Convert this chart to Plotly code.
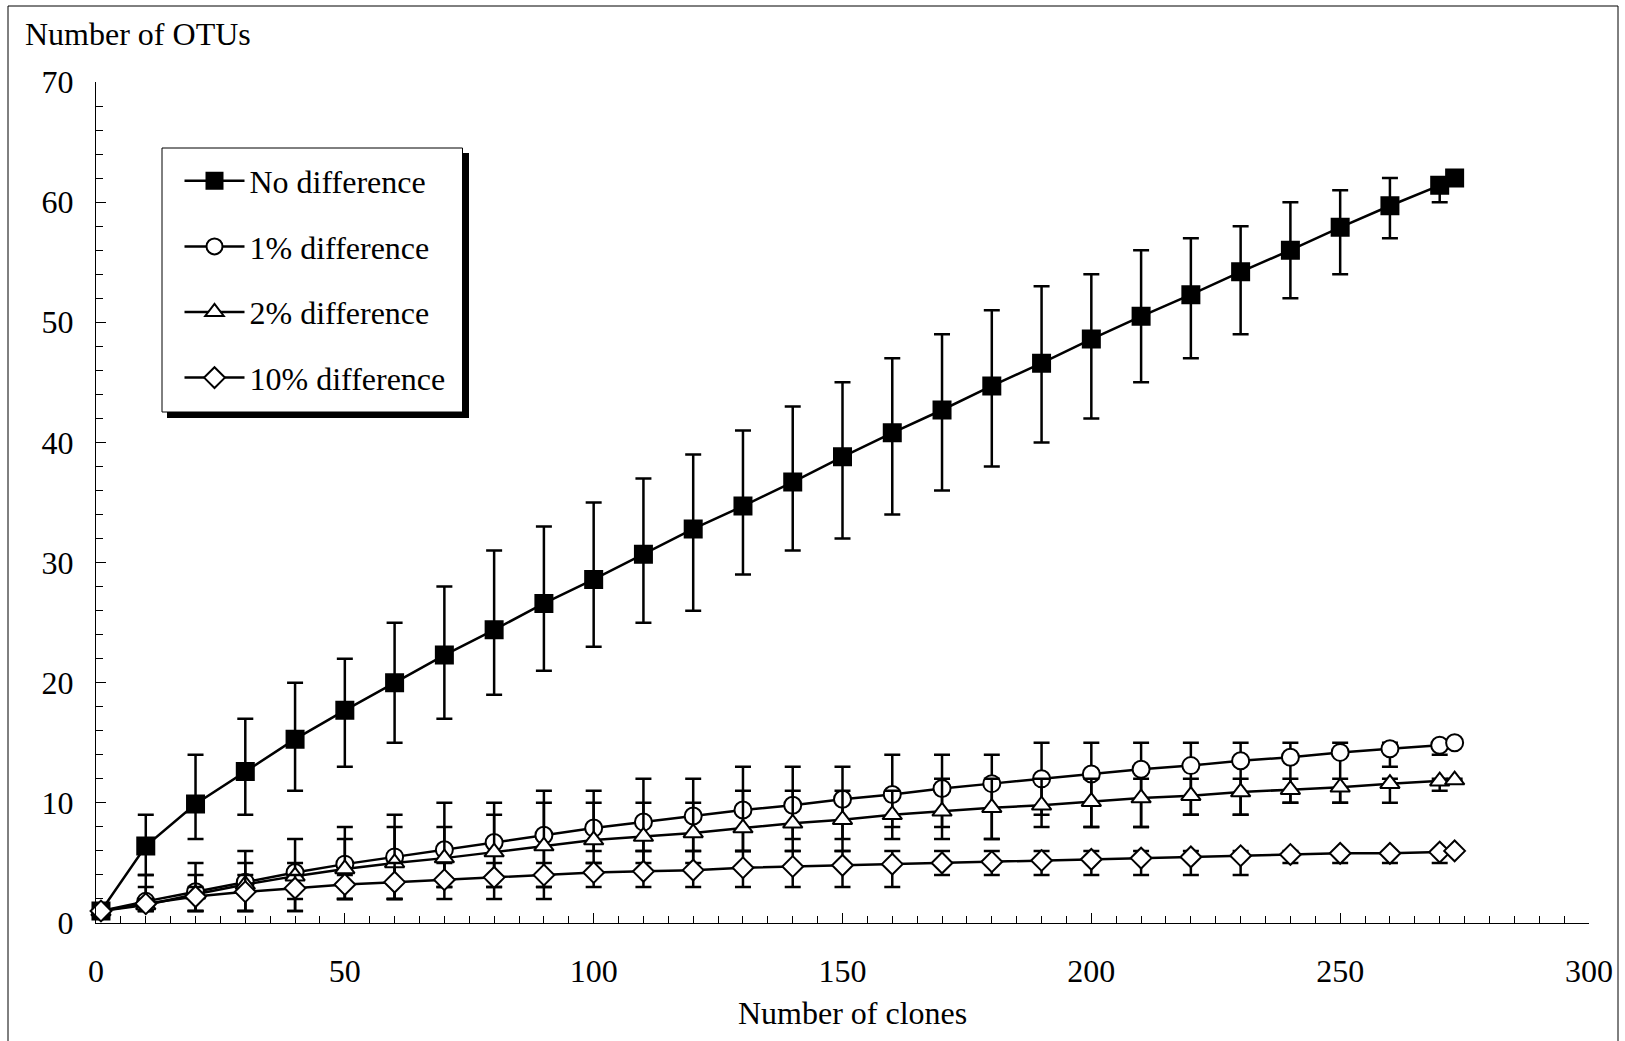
import plotly.graph_objects as go

# ---------------- data ----------------
clones = [1, 10, 20, 30, 40, 50, 60, 70, 80, 90, 100, 110, 120, 130, 140,
          150, 160, 170, 180, 190, 200, 210, 220, 230, 240, 250, 260, 270, 273]

no_diff = [1, 6.4, 9.9, 12.6, 15.3, 17.7, 20.0, 22.3, 24.4, 26.6, 28.6, 30.7, 32.8, 34.7, 36.7,
           38.8, 40.8, 42.7, 44.7, 46.6, 48.6, 50.5, 52.3, 54.2, 56.0, 57.9, 59.7, 61.4, 62.0]
no_diff_hi = [1, 9, 14, 17, 20, 22, 25, 28, 31, 33, 35, 37, 39, 41, 43,
              45, 47, 49, 51, 53, 54, 56, 57, 58, 60, 61, 62, 62, 62]
no_diff_lo = [1, 4, 7, 9, 11, 13, 15, 17, 19, 21, 23, 25, 26, 29, 31,
              32, 34, 36, 38, 40, 42, 45, 47, 49, 52, 54, 57, 60, 62]

one_pct = [1, 1.8, 2.6, 3.4, 4.2, 4.9, 5.5, 6.1, 6.7, 7.3, 7.9, 8.4, 8.9, 9.4, 9.8,
           10.3, 10.7, 11.2, 11.6, 12.0, 12.4, 12.8, 13.1, 13.5, 13.8, 14.2, 14.5, 14.8, 15.0]
one_pct_hi = [1, 4, 5, 6, 7, 8, 9, 10, 10, 11, 11, 12, 12, 13, 13,
              13, 14, 14, 14, 15, 15, 15, 15, 15, 15, 15, 15, 15, 15]
one_pct_lo = [1, 1, 1, 1, 2, 2, 2, 3, 3, 3, 6, 6, 6, 6, 7,
              7, 8, 8, 7, 9, 8, 8, 9, 9, 10, 10, 13, 14, 15]

two_pct = [1, 1.5, 2.4, 3.2, 3.9, 4.5, 5.0, 5.4, 5.9, 6.4, 6.9, 7.2, 7.5, 7.9, 8.3,
           8.6, 9.0, 9.3, 9.6, 9.8, 10.1, 10.4, 10.6, 10.9, 11.1, 11.3, 11.6, 11.8, 11.9]
two_pct_hi = [1, 3, 4, 5, 5, 7, 8, 8, 9, 10, 10, 10, 10, 11, 11,
              11, 11, 12, 12, 12, 12, 12, 12, 12, 12, 12, 12, 12, 12]
two_pct_lo = [1, 1, 1, 1, 1, 2, 2, 3, 3, 3, 5, 5, 5, 6, 6,
              6, 7, 7, 7, 8, 8, 8, 9, 9, 10, 10, 10, 11, 11.9]

ten_pct = [1, 1.6, 2.2, 2.6, 2.9, 3.2, 3.4, 3.6, 3.8, 4.0, 4.2, 4.3, 4.4, 4.6, 4.7,
           4.8, 4.9, 5.0, 5.1, 5.2, 5.3, 5.4, 5.5, 5.6, 5.7, 5.8, 5.8, 5.9, 6.0]
ten_pct_hi = [1, 2, 3, 4, 4, 4, 5, 5, 5, 5, 5, 6, 6, 6, 6,
              6, 6, 6, 6, 6, 6, 6, 6, 6, 6, 6, 6, 6, 6]
ten_pct_lo = [1, 1, 1, 1, 1, 2, 2, 2, 2, 2, 3, 3, 3, 3, 3,
              3, 3, 4, 4, 4, 4, 4, 4, 4, 5, 5, 5, 5, 6]

series_names = ["No difference", "1% difference", "2% difference", "10% difference"]
x_ticks = [0, 50, 100, 150, 200, 250, 300]
y_ticks = [0, 10, 20, 30, 40, 50, 60, 70]

# ---------------- layout helpers ----------------
W, H = 1625, 1041
ML, MR, MT, MB = 96, 36, 82, 118
PW, PH = W - ML - MR, H - MT - MB


def px_x(px):
    return (px - ML) / PW


def px_y(py):
    return (H - MB - py) / PH


FONT = "Liberation Serif"
FS = 32
NBSP = "\u00a0"

fig = go.Figure()

specs = [
    (series_names[0], no_diff, no_diff_hi, no_diff_lo, "square", "black", 17),
    (series_names[1], one_pct, one_pct_hi, one_pct_lo, "circle", "white", 17),
    (series_names[2], two_pct, two_pct_hi, two_pct_lo, "triangle-up", "white", 17),
    (series_names[3], ten_pct, ten_pct_hi, ten_pct_lo, "diamond", "white", 16),
]

for i, (name, vals, hi, lo, sym, fill, size) in enumerate(specs):
    fig.add_trace(go.Scatter(
        x=clones, y=vals, name=name, mode="lines+markers",
        legendgroup=f"g{i}",
        line=dict(color="black", width=2.5),
        marker=dict(symbol=sym, size=size, color=fill,
                    line=dict(color="black", width=2)),
        error_y=dict(type="data", symmetric=False,
                     array=[h - v for h, v in zip(hi, vals)],
                     arrayminus=[v - l for v, l in zip(vals, lo)],
                     color="black", thickness=2.5, width=8),
        cliponaxis=False,
    ))

axis_common = dict(
    showgrid=False, zeroline=False, showline=True, linecolor="black", linewidth=1,
    ticks="inside", ticklen=10, tickwidth=1, tickcolor="black",
    tickfont=dict(family=FONT, size=FS, color="black"),
)

fig.update_xaxes(range=[0, 300], tickmode="array", tickvals=x_ticks,
                 ticktext=[str(v) for v in x_ticks],
                 minor=dict(dtick=5, tick0=0, ticks="inside", ticklen=7,
                            tickwidth=1, tickcolor="black", showgrid=False),
                 ticklabelstandoff=20, **axis_common)
fig.update_yaxes(range=[0, 70], tickmode="array", tickvals=y_ticks,
                 ticktext=[str(v) for v in y_ticks],
                 minor=dict(dtick=2, tick0=0, ticks="inside", ticklen=7,
                            tickwidth=1, tickcolor="black", showgrid=False),
                 ticklabelstandoff=15, **axis_common)

fig.update_layout(
    width=W, height=H,
    margin=dict(l=ML, r=MR, t=MT, b=MB, pad=0),
    paper_bgcolor="white", plot_bgcolor="white",
    font=dict(family=FONT, size=FS, color="black"),
    showlegend=True,
    legend=dict(
        x=px_x(162), y=px_y(153.5), xanchor="left", yanchor="top",
        bgcolor="rgba(0,0,0,0)", borderwidth=0,
        font=dict(family=FONT, size=FS, color="black"),
        itemwidth=60, tracegroupgap=21, traceorder="grouped",
        title=dict(text=NBSP, side="left", font=dict(family=FONT, size=30)),
    ),
    annotations=[
        dict(text="Number of OTUs", xref="paper", yref="paper",
             x=px_x(23), y=px_y(34), xanchor="left", yanchor="middle",
             showarrow=False, font=dict(family=FONT, size=FS, color="black")),
        dict(text="Number of clones", xref="paper", yref="paper",
             x=px_x(852), y=px_y(1013), xanchor="center", yanchor="middle",
             showarrow=False, font=dict(family=FONT, size=FS, color="black")),
    ],
    shapes=[
        # outer frame
        dict(type="rect", xref="paper", yref="paper",
             x0=px_x(8), x1=px_x(1618), y0=px_y(1070), y1=px_y(6),
             line=dict(color="black", width=1), fillcolor="rgba(0,0,0,0)", layer="above"),
        # legend shadow
        dict(type="rect", xref="paper", yref="paper",
             x0=px_x(167), x1=px_x(469), y0=px_y(418), y1=px_y(153),
             line=dict(width=0), fillcolor="black", layer="above"),
        # legend box
        dict(type="rect", xref="paper", yref="paper",
             x0=px_x(162), x1=px_x(462.5), y0=px_y(412), y1=px_y(148),
             line=dict(color="black", width=1), fillcolor="white", layer="above"),
    ],
)

fig.write_html("out.html", config={"displayModeBar": False},
               post_script="document.body.style.margin='0px';")
